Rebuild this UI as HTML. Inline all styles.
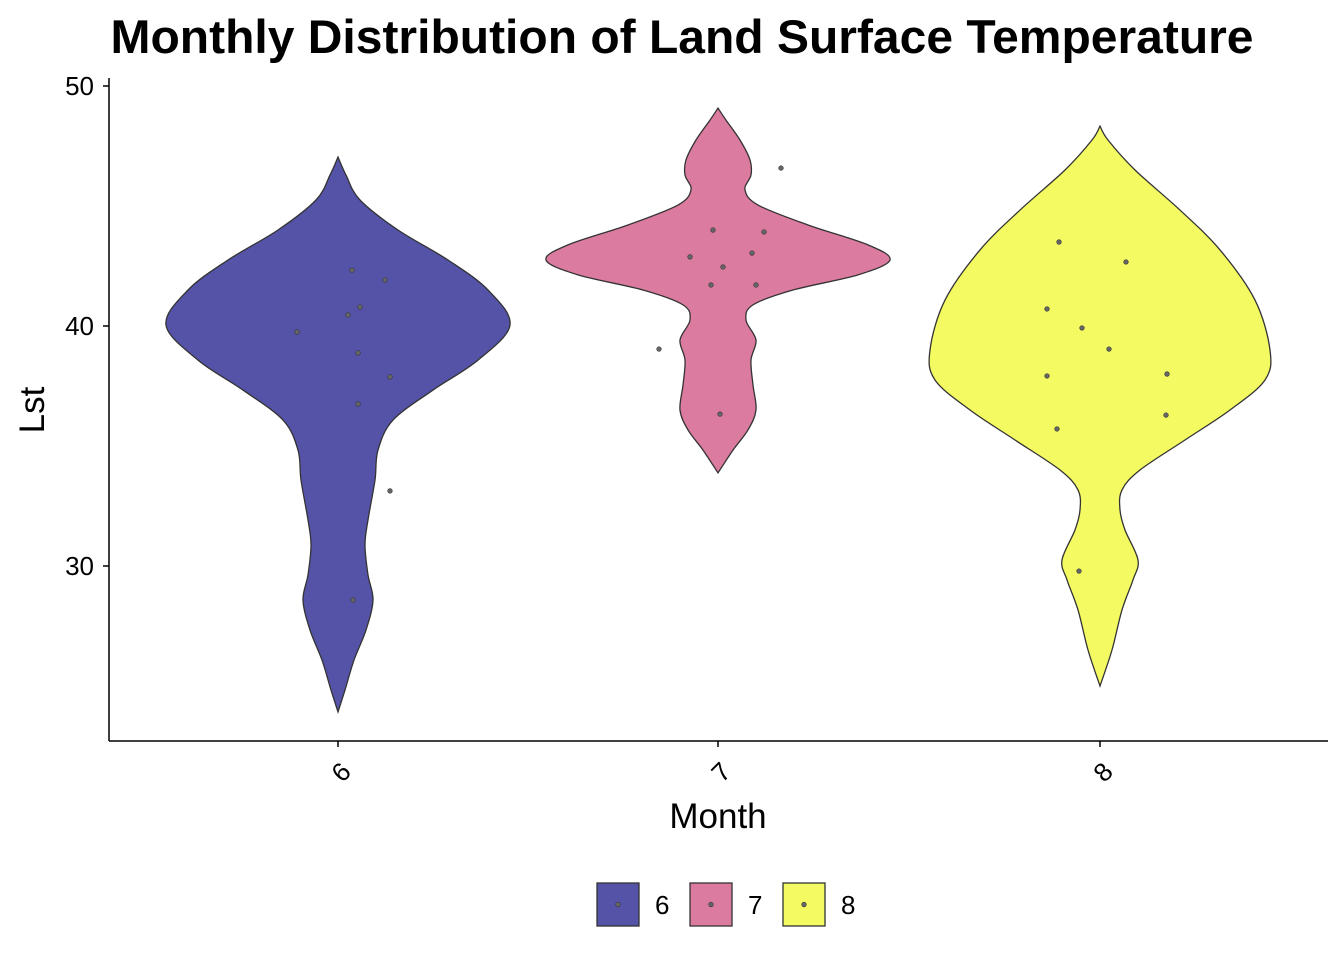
<!DOCTYPE html>
<html><head><meta charset="utf-8"><style>
body{margin:0;background:#fff;}
svg{display:block;font-family:"Liberation Sans",Arial,sans-serif;}
</style></head><body>
<svg id="chart" width="1344" height="960" viewBox="0 0 1344 960">
<text x="682" y="53" text-anchor="middle" font-size="47" font-weight="bold" textLength="1143" lengthAdjust="spacingAndGlyphs">Monthly Distribution of Land Surface Temperature</text>
<g id="plot"></g>
<line x1="109" y1="78" x2="109" y2="741" stroke="#000" stroke-width="1.5"/>
<line x1="109" y1="741" x2="1328" y2="741" stroke="#000" stroke-width="1.5"/>
<g id="axes"></g>
<text x="718" y="828" text-anchor="middle" font-size="35">Month</text>
<text transform="translate(44,410) rotate(-90)" text-anchor="middle" font-size="35">Lst</text>
<g id="legend"></g>
</svg>
<script>
const categories = ["6","7","8"];
const colors = ["#5553A8","#DB7B9F","#F4FA62"];
const yTicks = [30,40,50];
// violin profiles: value levels and relative density half-widths
const profV6 = [47.04,46.29,45.25,44.0,42.75,41.5,40.04,38.58,37.33,36.08,34.83,33.58,31.92,30.88,29.63,28.58,27.33,26.08,24.83,23.92];
const profW6 = [0,8,22,60,110,150,172,140,95,55,40,37,30,27,30,35,28,16,7,0];
const profV7 = [49.08,48.58,47.75,46.92,46.29,45.67,45.04,44.21,43.38,42.75,42.13,41.5,40.88,40.25,39.42,38.58,37.54,36.5,35.67,34.83,33.88];
const profW7 = [0,8,22,32,33,27,40,90,150,172,140,75,35,28,38,33,35,38,30,15,0];
const profV8 = [48.33,47.75,46.5,44.83,43.17,41.08,39.0,37.75,36.5,35.25,34.0,33.17,32.33,31.5,30.25,29.42,28.17,26.5,25.0];
const profW8 = [0,8,35,80,120,155,170,165,130,85,40,22,20,25,38,33,22,12,0];
const ptsV6 = [42.33,41.92,40.79,40.46,39.75,38.88,37.88,36.75,33.13,28.58];
const ptsJ6 = [14,47,22,10,-41,20,52,20,52,15];
const ptsV7 = [46.58,44.0,43.92,42.88,42.46,43.04,41.71,41.71,39.04,36.33];
const ptsJ7 = [63,-5,46,-28,5,34,-7,38,-59,2];
const ptsV8 = [43.5,42.67,40.71,39.92,39.04,37.92,38.0,36.29,35.71,29.79];
const ptsJ8 = [-41,26,-53,-18,9,-53,67,66,-43,-21];

const NS="http://www.w3.org/2000/svg";
const y = v => 326-(v-40)*24;
const x = i => [338,718,1100][i];
function mk(t,a,p){const e=document.createElementNS(NS,t);for(const k in a)e.setAttribute(k,a[k]);p.appendChild(e);return e;}
function smooth(pts){
  let d=`M${pts[0][0]},${pts[0][1]}`;
  for(let i=0;i<pts.length-1;i++){
    const p0=pts[Math.max(i-1,0)],p1=pts[i],p2=pts[i+1],p3=pts[Math.min(i+2,pts.length-1)];
    const c1=[p1[0]+(p2[0]-p0[0])/6,p1[1]+(p2[1]-p0[1])/6];
    const c2=[p2[0]-(p3[0]-p1[0])/6,p2[1]-(p3[1]-p1[1])/6];
    d+=` C${c1[0]},${c1[1]} ${c2[0]},${c2[1]} ${p2[0]},${p2[1]}`;
  }
  return d;
}
const plot=document.getElementById('plot');
const profs=[[profV6,profW6],[profV7,profW7],[profV8,profW8]];
const pts=[[ptsV6,ptsJ6],[ptsV7,ptsJ7],[ptsV8,ptsJ8]];
profs.forEach((pr,i)=>{
  const cx=x(i);
  const right=pr[0].map((v,k)=>[cx+pr[1][k],y(v)]);
  const left=pr[0].map((v,k)=>[cx-pr[1][k],y(v)]);
  const d=smooth(right)+" "+smooth(left.slice().reverse()).replace(/^M/,"L")+"Z";
  const p=mk('path',{d:d,fill:colors[i],stroke:"#333",'stroke-width':1.3},plot);
  
  
  pts[i][0].forEach((v,k)=>{
    const c=mk('circle',{cx:cx+pts[i][1][k],cy:y(v),r:2.3,fill:"#666",stroke:"#333",'stroke-width':0.6},plot);
    
    
  });
});
const axes=document.getElementById('axes');
yTicks.forEach(t=>{
  const l=mk('line',{x1:103,x2:109,y1:y(t),y2:y(t),stroke:"#000",'stroke-width':1.5},axes);
  
  
  const tx=mk('text',{x:94,y:y(t)+9,'text-anchor':'end','font-size':26},axes);
  tx.textContent=t;
  
  
});
categories.forEach((c,i)=>{
  const l=mk('line',{x1:x(i),x2:x(i),y1:741,y2:747,stroke:"#000",'stroke-width':1.5},axes);
  
  
  const tx=mk('text',{transform:`translate(${x(i)+3},${772}) rotate(-45)`,x:0,y:9,'text-anchor':'middle','font-size':26},axes);
  tx.textContent=c;
  
  
});
const lg=document.getElementById('legend');
categories.forEach((c,i)=>{
  const bx=597+i*93;
  const r=mk('rect',{x:bx,y:883,width:42,height:43,fill:colors[i],stroke:"#333",'stroke-width':1.3},lg);
  
  
  mk('circle',{cx:bx+21,cy:904.5,r:2.3,fill:"#666",stroke:"#333",'stroke-width':0.6},lg);
  const t=mk('text',{x:bx+58,y:914,'font-size':26},lg);
  t.textContent=c;
  
  
});
</script>
</body></html>
